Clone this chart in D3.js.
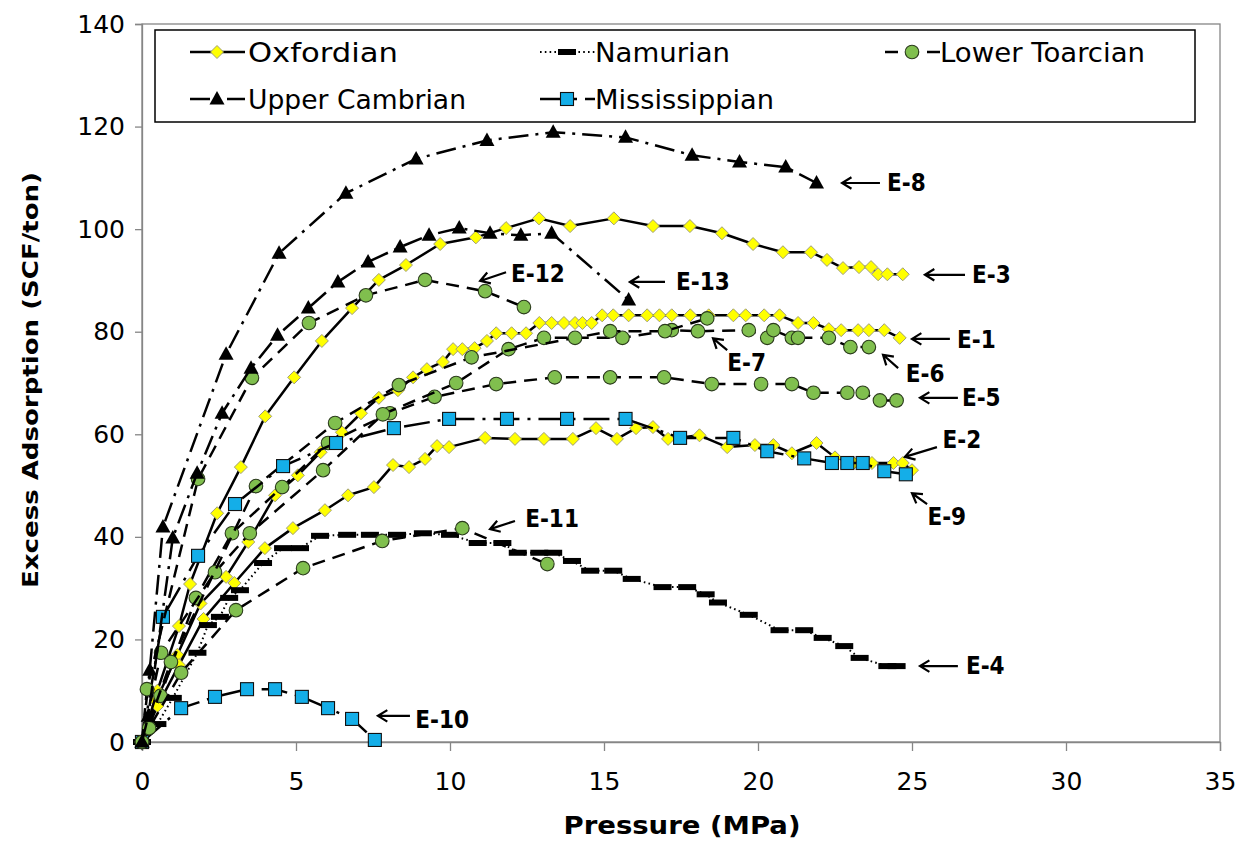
<!DOCTYPE html>
<html><head><meta charset="utf-8">
<script src="https://cdn.jsdelivr.net/npm/d3@7"></script>
<style>
html,body{margin:0;padding:0;background:#fff;}
svg{display:block;}
</style></head>
<body>
<svg id="chart" width="1249" height="844"></svg>
<script>
// ---- Excess adsorption isotherms: [pressure MPa, excess adsorption SCF/ton] ----
const sampleE1 = [[0,0],[0.45,8],[1.15,17],[1.9,27],[2.73,32.2],[3.45,39],[4.32,48.1],[5.06,52.0],[5.8,56.5],[6.49,60.4],[7.11,64.1],[7.69,67.1],[8.31,68.6],[8.8,71.1],[9.25,72.7],[9.77,74.1],[10.1,76.6],[10.4,76.6],[10.8,76.8],[11.2,78.2],[11.5,79.7],[12.0,79.7],[12.47,79.7],[12.9,81.7],[13.3,81.7],[13.7,81.7],[14.06,81.7],[14.3,81.7],[14.6,81.7],[14.94,83.2],[15.3,83.2],[15.8,83.2],[16.4,83.2],[16.8,83.2],[17.2,83.2],[17.8,83.2],[18.4,83.2],[19.2,83.2],[19.6,83.2],[20.2,83.2],[20.7,83.2],[21.3,81.7],[21.8,81.7],[22.3,80.5],[22.7,80.3],[23.25,80.3],[23.6,80.3],[24.1,80.3],[24.6,78.8]];
const sampleE2 = [[0,0],[0.5,7],[1.2,15],[2.0,24],[3.0,31],[3.99,37.8],[4.9,41.7],[5.94,45.2],[6.69,48.1],[7.53,49.7],[8.15,54.0],[8.67,53.6],[9.19,55.2],[9.58,57.7],[9.97,57.5],[11.14,59.3],[12.11,59.1],[13.05,59.1],[13.99,59.1],[14.74,61.2],[15.42,59.1],[16.04,61.2],[16.59,61.4],[17.08,59.1],[18.1,59.8],[19.0,57.5],[19.9,57.9],[20.5,57.9],[21.1,56.3],[21.9,58.3],[22.5,55.5],[23.1,54.4],[23.7,54.4],[24.4,54.4],[24.7,54.4],[25.0,53.0]];
const sampleE3 = [[0,0],[0.5,10],[1.2,22.6],[1.56,30.8],[2.44,44.6],[3.21,53.6],[4.0,63.5],[4.94,71.1],[5.84,78.2],[6.82,84.6],[7.69,90.1],[8.57,93.0],[9.68,97.1],[10.84,98.4],[11.82,100.2],[12.89,102.1],[13.9,100.6],[15.32,102.1],[16.59,100.6],[17.79,100.6],[18.83,99.2],[19.84,97.1],[20.81,95.5],[21.72,95.5],[22.24,94.0],[22.76,92.4],[23.28,92.6],[23.67,92.6],[23.9,91.2],[24.2,91.2],[24.7,91.2]];
const sampleE4 = [[0,0],[0.5,3.5],[1.0,8.6],[1.8,17.4],[2.14,22.8],[2.53,24.4],[2.83,28.1],[3.18,29.6],[3.93,34.9],[4.58,37.8],[5.13,37.8],[5.78,40.2],[6.66,40.4],[7.4,40.4],[8.28,40.4],[9.12,40.7],[10.0,40.4],[10.9,38.8],[11.7,38.8],[12.2,36.9],[12.9,36.9],[13.35,36.9],[13.96,35.3],[14.55,33.4],[15.3,33.4],[15.9,31.8],[16.9,30.2],[17.7,30.2],[18.3,28.8],[18.7,27.2],[19.7,24.8],[20.7,21.8],[21.5,21.8],[22.1,20.3],[22.8,18.7],[23.3,16.4],[24.2,14.8],[24.5,14.8]];
const sampleE5 = [[0,0],[0.6,9],[1.75,28.1],[2.92,40.7],[4.55,49.7],[6.04,58.3],[8.05,64.1],[9.5,67.3],[11.5,69.8],[13.4,71.1],[15.2,71.1],[16.95,71.1],[18.5,69.8],[20.1,69.8],[21.1,69.8],[21.8,68.1],[22.9,68.1],[23.4,68.1],[23.96,66.6],[24.5,66.6]];
const sampleE6 = [[0,0],[0.62,17.4],[2.37,33.1],[3.5,40.7],[5.88,53.0],[7.82,63.9],[10.2,70.0],[11.9,76.6],[13.05,78.8],[15.6,78.8],[17.2,80.3],[18.05,80.1],[19.7,80.3],[20.3,78.8],[20.5,80.3],[21.1,78.8],[21.3,78.8],[22.3,78.8],[23.0,77.0],[23.6,77.0]];
const sampleE7 = [[0,0],[0.94,15.6],[3.7,49.9],[6.27,62.2],[8.34,69.6],[10.7,75.0],[14.06,78.8],[15.2,80.1],[16.98,80.1],[18.35,82.6]];
const sampleE8 = [[0,0],[0.25,14],[0.68,41.9],[2.73,75.6],[4.45,95.3],[6.62,107.0],[8.9,113.7],[11.2,117.3],[13.35,118.9],[15.7,117.9],[17.86,114.4],[19.4,113.1],[20.9,112.1],[21.9,109.0]];
const sampleE9 = [[0,0],[0.68,24.4],[1.82,36.3],[3.02,46.4],[4.58,53.8],[6.3,58.3],[8.18,61.2],[9.97,63.0],[11.85,63.0],[13.8,63.0],[15.7,63.0],[17.47,59.3],[19.2,59.3],[20.3,56.7],[21.5,55.3],[22.4,54.4],[22.9,54.4],[23.4,54.4],[24.1,52.8],[24.8,52.2]];
const sampleE10 = [[0,0],[1.27,6.6],[2.37,8.8],[3.41,10.3],[4.32,10.3],[5.19,8.8],[6.04,6.6],[6.82,4.5],[7.56,0.4]];
const sampleE11 = [[0,0],[0.23,2.7],[1.27,13.5],[3.05,25.7],[5.23,33.9],[7.8,39.2],[10.4,41.7],[13.16,34.7]];
const sampleE12 = [[0,0],[0.16,10.3],[1.82,51.3],[3.57,71.0],[5.42,81.7],[7.27,87.1],[9.19,90.1],[11.14,87.9],[12.4,84.8]];
const sampleE13 = [[0,0],[0.2,5],[1.0,39.8],[1.79,52.4],[2.6,64.1],[3.54,72.9],[4.4,79.3],[5.4,84.6],[6.36,89.7],[7.34,93.6],[8.38,96.5],[9.32,98.8],[10.3,100.2],[11.3,99.2],[12.3,98.8],[13.3,99.2],[15.8,86.2]];

// Formation (legend entry) of each sample, in drawing order
const formations = ["Oxfordian", "Namurian", "Lower Toarcian", "Upper Cambrian", "Mississippian"];
const sampleNames = ["E-1","E-2","E-3","E-4","E-5","E-6","E-7","E-8","E-9","E-10","E-11","E-12","E-13"];
const sampleData = [sampleE1,sampleE2,sampleE3,sampleE4,sampleE5,sampleE6,sampleE7,sampleE8,sampleE9,sampleE10,sampleE11,sampleE12,sampleE13];
const sampleFormation = ["Oxfordian","Oxfordian","Oxfordian","Namurian","Lower Toarcian","Lower Toarcian","Lower Toarcian","Upper Cambrian","Mississippian","Mississippian","Lower Toarcian","Lower Toarcian","Upper Cambrian"];

const xTicks = [0,5,10,15,20,25,30,35];
const yTicks = [0,20,40,60,80,100,120,140];

// Sample labels: text, arrow tip, arrow tail, text anchor point (data units)
const labelText = ["E-8","E-3","E-13","E-12","E-1","E-7","E-6","E-5","E-2","E-9","E-4","E-10","E-11"];
const labelTip  = [[22.73,109.0],[25.42,91.1],[15.84,89.7],[10.98,89.9],[25.0,78.6],[18.54,78.7],[24.06,75.5],[25.26,67.1],[24.77,55.6],[25.0,48.5],[25.26,14.8],[7.66,5.1],[11.3,41.5]];
const labelTail = [[23.96,109.0],[26.72,91.1],[16.98,89.7],[11.82,91.6],[26.23,78.6],[19.0,76.4],[24.55,72.9],[26.49,67.1],[25.81,57.5],[25.49,46.4],[26.49,14.8],[8.7,5.1],[12.11,43.1]];
const labelPos  = [[24.19,109.0],[26.95,91.1],[17.34,89.7],[11.98,91.4],[26.46,78.4],[19.0,74.0],[24.8,71.9],[26.62,67.1],[25.99,59.0],[25.5,44.0],[26.75,14.8],[8.87,4.3],[12.44,43.5]];

// ---- layout ----
const svg = d3.select("#chart");
const x = d3.scaleLinear().domain([0,35]).range([142,1220]);
const y = d3.scaleLinear().domain([0,140]).range([742,24]);
const axisGrey = "#868686";

const style = {
  "Oxfordian":      {dash: null,          width: 2.5},
  "Namurian":       {dash: "1.6,3.2",     width: 2.0},
  "Lower Toarcian": {dash: "13,8",        width: 2.5},
  "Upper Cambrian": {dash: "20,7,3,7",    width: 2.5},
  "Mississippian":  {dash: "26,8,3,8",    width: 2.5}
};

function drawMarker(g, f, px, py) {
  if (f === "Oxfordian") {
    g.append("path").attr("d", `M${px},${py-6.5}L${px+6.5},${py}L${px},${py+6.5}L${px-6.5},${py}Z`)
      .attr("fill", "#ffff00").attr("stroke", "#a09e78").attr("stroke-width", 1);
  } else if (f === "Namurian") {
    g.append("rect").attr("x", px-9).attr("y", py-3).attr("width", 18).attr("height", 6).attr("fill", "#000");
  } else if (f === "Lower Toarcian") {
    g.append("circle").attr("cx", px).attr("cy", py).attr("r", 6.8)
      .attr("fill", "#80bf4e").attr("stroke", "#2b3b1c").attr("stroke-width", 1.1);
  } else if (f === "Upper Cambrian") {
    g.append("path").attr("d", `M${px},${py-8}L${px+7.5},${py+5.5}L${px-7.5},${py+5.5}Z`).attr("fill", "#000");
  } else {
    g.append("rect").attr("x", px-6.5).attr("y", py-6.5).attr("width", 13).attr("height", 13)
      .attr("fill", "#14aee8").attr("stroke", "#111").attr("stroke-width", 1.1);
  }
}

// plot frame and axes
svg.append("rect").attr("x", x(0)).attr("y", y(140)).attr("width", x(35)-x(0)).attr("height", y(0)-y(140))
  .attr("fill", "none").attr("stroke", axisGrey).attr("stroke-width", 1.3);

const xAxis = svg.append("g").attr("transform", `translate(0,${y(0)})`)
  .call(d3.axisBottom(x).tickValues(xTicks).tickSize(9).tickPadding(31).tickFormat(d3.format("d")));
const yAxis = svg.append("g").attr("transform", `translate(${x(0)},0)`)
  .call(d3.axisLeft(y).tickValues(yTicks).tickSize(7).tickPadding(10).tickFormat(d3.format("d")));
[xAxis, yAxis].forEach(a => {
  a.select(".domain").attr("stroke", axisGrey).attr("stroke-width", 1.3);
  a.selectAll(".tick line").attr("stroke", axisGrey).attr("stroke-width", 1.3);
  a.selectAll(".tick text").attr("fill", "#000").style("font-family", "'DejaVu Sans', Verdana, sans-serif").style("font-size", "25px");
});
xAxis.selectAll(".tick text").attr("dy", "0.32em");

// series
const line = d3.line().x(d => x(d[0])).y(d => y(d[1]));
const plot = svg.append("g");
sampleData.forEach((data, i) => {
  const f = sampleFormation[i];
  const g = plot.append("g").attr("class", "sample").attr("data-name", sampleNames[i]);
  g.append("path").attr("d", line(data)).attr("fill", "none").attr("stroke", "#000")
    .attr("stroke-width", style[f].width).attr("stroke-dasharray", style[f].dash)
    .attr("stroke-linejoin", "round");
  data.forEach(d => drawMarker(g, f, x(d[0]), y(d[1])));
});

// sample labels with arrows
const ann = svg.append("g");
labelText.forEach((t, i) => {
  const [tx, ty] = [x(labelTip[i][0]), y(labelTip[i][1])];
  const [sx, sy] = [x(labelTail[i][0]), y(labelTail[i][1])];
  const ang = Math.atan2(sy - ty, sx - tx);
  const h = 11, spread = 0.55;
  ann.append("path")
    .attr("d", `M${sx},${sy}L${tx},${ty}M${tx+h*Math.cos(ang+spread)},${ty+h*Math.sin(ang+spread)}L${tx},${ty}L${tx+h*Math.cos(ang-spread)},${ty+h*Math.sin(ang-spread)}`)
    .attr("fill", "none").attr("stroke", "#000").attr("stroke-width", 2.2);
  ann.append("text").attr("x", x(labelPos[i][0])).attr("y", y(labelPos[i][1])).attr("dy", "0.35em")
    .attr("font-family", "'Liberation Sans Narrow', 'DejaVu Sans Condensed', sans-serif")
    .attr("font-weight", "bold").attr("font-size", 24).attr("fill", "#000").text(t);
});

// legend
const lg = svg.append("g");
lg.append("rect").attr("x", 155).attr("y", 30).attr("width", 1040).attr("height", 92)
  .attr("fill", "#fff").attr("stroke", "#000").attr("stroke-width", 1.5);
const legendCells = [
  {f: "Oxfordian", x0: 190, row: 0, tx: 248, w: 150},
  {f: "Namurian", x0: 540, row: 0, tx: 595, w: 135},
  {f: "Lower Toarcian", x0: 885, row: 0, tx: 940, w: 205},
  {f: "Upper Cambrian", x0: 190, row: 1, tx: 248, w: 218},
  {f: "Mississippian", x0: 540, row: 1, tx: 595, w: 179}
];
legendCells.forEach(c => {
  const ly = c.row === 0 ? 52 : 99;
  lg.append("line").attr("x1", c.x0).attr("x2", c.x0 + 55).attr("y1", ly).attr("y2", ly)
    .attr("stroke", "#000").attr("stroke-width", style[c.f].width).attr("stroke-dasharray", style[c.f].dash);
  drawMarker(lg, c.f, c.x0 + 27, ly);
  lg.append("text").attr("x", c.tx).attr("y", ly).attr("dy", "0.36em")
    .attr("font-family", "'DejaVu Sans', Verdana, sans-serif").attr("font-size", 27)
    .attr("textLength", c.w).attr("lengthAdjust", "spacingAndGlyphs").text(c.f);
});

// axis titles
svg.append("text").attr("x", 682).attr("y", 834).attr("text-anchor", "middle")
  .attr("font-family", "'DejaVu Sans', sans-serif").attr("font-weight", "bold").attr("font-size", 24)
  .attr("textLength", 237).attr("lengthAdjust", "spacingAndGlyphs").text("Pressure (MPa)");
svg.append("text").attr("transform", "translate(38,380) rotate(-90)").attr("text-anchor", "middle")
  .attr("font-family", "'DejaVu Sans', sans-serif").attr("font-weight", "bold").attr("font-size", 22)
  .attr("textLength", 416).attr("lengthAdjust", "spacingAndGlyphs").text("Excess Adsorption (SCF/ton)");
</script>
</body></html>
